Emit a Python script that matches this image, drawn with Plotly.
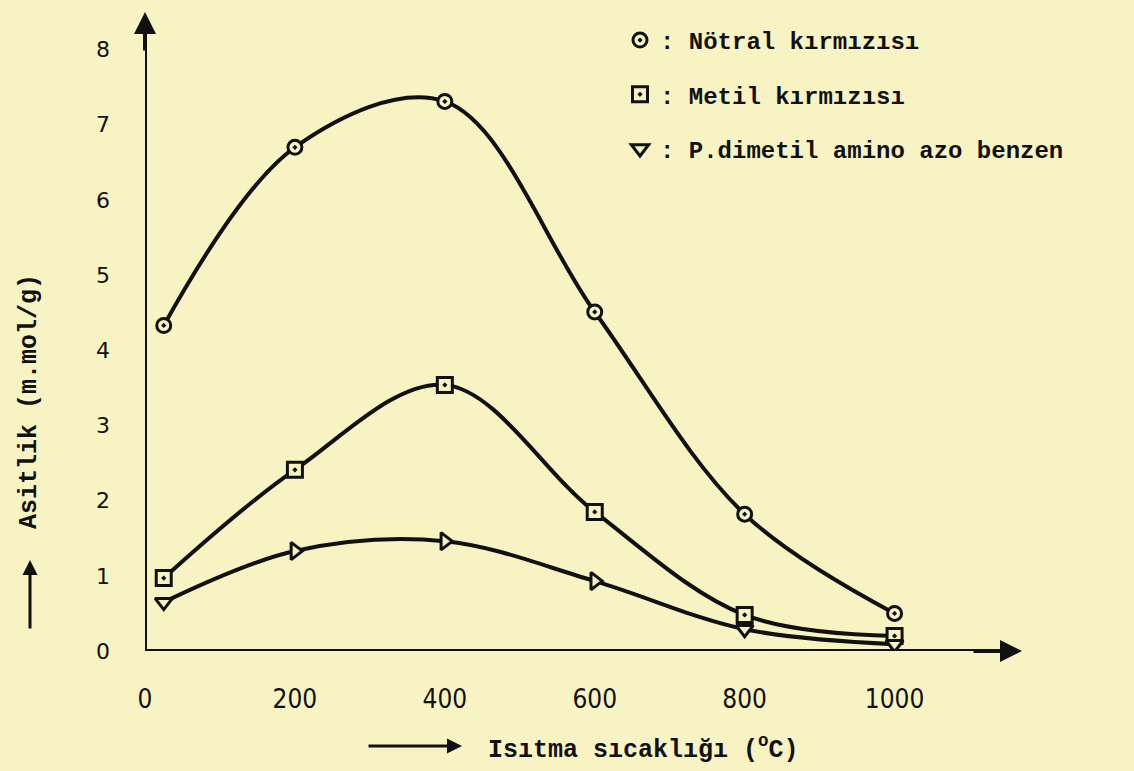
import plotly.graph_objects as go

temps = [25, 200, 400, 600, 800, 1000]
notral = [4.33, 6.7, 7.31, 4.51, 1.82, 0.5]
metil = [0.97, 2.41, 3.54, 1.85, 0.48, 0.2]
dimetil = [0.65, 1.33, 1.46, 0.93, 0.29, 0.09]

names = [": Nötral kırmızısı", ": Metil kırmızısı", ": P.dimetil amino azo benzen"]
x_ticks = [0, 200, 400, 600, 800, 1000]
y_ticks = [0, 1, 2, 3, 4, 5, 6, 7, 8]

bg = "#f8f3c2"
ink = "#111111"
mono = "Liberation Mono, DejaVu Sans Mono, monospace"
W, H = 1134, 771
ML, MR, MT, MB = 145, 112, 12, 120
PW, PH = W - ML - MR, H - MT - MB


def px(x):
    return (x - ML) / PW


def py(y):
    return (H - MB - y) / PH


series = [
    (notral, names[0], "circle-dot", 14),
    (metil, names[1], "square-dot", 15),
    (dimetil, names[2], ["triangle-down", "triangle-right", "triangle-right", "triangle-right",
                         "triangle-down", "triangle-down"], 15),
]

fig = go.Figure()
for i, (vals, nm, sym, sz) in enumerate(series):
    fig.add_trace(go.Scatter(
        x=temps, y=vals, mode="lines", showlegend=False, hoverinfo="skip",
        line=dict(color=ink, width=4, shape="spline", smoothing=1.0)))
for i, (vals, nm, sym, sz) in enumerate(series):
    fig.add_trace(go.Scatter(
        x=temps, y=vals, name=nm, mode="markers", legendgroup=f"g{i}",
        marker=dict(symbol=sym, size=sz, color=bg, line=dict(color=ink, width=3))))

fig.update_layout(
    width=W, height=H,
    paper_bgcolor=bg, plot_bgcolor=bg,
    margin=dict(l=ML, r=MR, t=MT, b=MB),
    showlegend=True,
    legend=dict(x=px(620), y=py(18), xanchor="left", yanchor="top",
                bgcolor="rgba(0,0,0,0)",
                font=dict(family=mono, size=24, color=ink, weight="bold"),
                tracegroupgap=20, itemsizing="trace", itemwidth=30),
    xaxis=dict(range=[0, 1170], tickvals=x_ticks, ticktext=[str(v) for v in x_ticks],
               showgrid=False, zeroline=False, showline=False, ticks="",
               ticklabelstandoff=30,
               tickfont=dict(family="DejaVu Sans Condensed, DejaVu Sans", size=26, color=ink)),
    yaxis=dict(range=[0, 8.5], tickvals=y_ticks, ticktext=[str(v) for v in y_ticks],
               showgrid=False, zeroline=False, showline=False, ticks="",
               ticklabelstandoff=34,
               tickfont=dict(family="DejaVu Sans, sans-serif", size=22, color=ink)),
)

# axes with arrows
fig.add_shape(type="line", x0=0, y0=0, x1=1140, y1=0, xref="x", yref="y",
              line=dict(color=ink, width=4))
fig.add_shape(type="line", x0=0, y0=0, x1=0, y1=8.3, xref="x", yref="y",
              line=dict(color=ink, width=4))
fig.add_annotation(x=1170, y=0, ax=-50, ay=0, xref="x", yref="y",
                   showarrow=True, arrowhead=2, arrowsize=1.1, arrowwidth=4, arrowcolor=ink, text="")
fig.add_annotation(x=0, y=8.5, ax=0, ay=40, xref="x", yref="y",
                   showarrow=True, arrowhead=2, arrowsize=1.1, arrowwidth=4, arrowcolor=ink, text="")

# axis titles
fig.add_annotation(x=px(486), y=py(748), xref="paper", yref="paper",
                   text="Isıtma sıcaklığı (<sup>o</sup>C)",
                   showarrow=False, xanchor="left", yanchor="middle",
                   font=dict(family=mono, size=25, color=ink, weight="bold"))
fig.add_annotation(x=px(462), y=py(746), ax=-95, ay=0,
                   xref="paper", yref="paper",
                   showarrow=True, arrowhead=2, arrowsize=1, arrowwidth=3, arrowcolor=ink, text="")
fig.add_annotation(x=px(30), y=py(402), xref="paper", yref="paper", text="Asitlik (m.mol/g)",
                   textangle=-90, showarrow=False, xanchor="center", yanchor="middle",
                   font=dict(family=mono, size=25, color=ink, weight="bold"))
fig.add_annotation(x=px(30), y=py(560), ax=0, ay=70,
                   xref="paper", yref="paper",
                   showarrow=True, arrowhead=2, arrowsize=1, arrowwidth=3, arrowcolor=ink, text="")

fig.write_html("out.html", config={"displayModeBar": False},
               post_script="document.body.style.margin='0';")
